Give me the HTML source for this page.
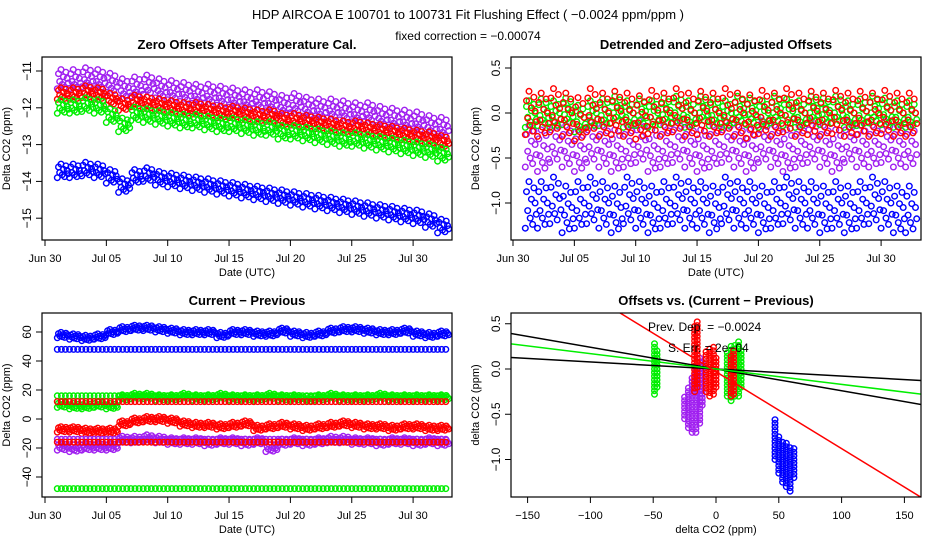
<!DOCTYPE html>
<html><head><meta charset="utf-8">
<style>
html,body{margin:0;padding:0;background:#fff;}
svg{display:block;font-family:"Liberation Sans",sans-serif;}
</style></head>
<body>
<svg id="c" width="936" height="540" viewBox="0 0 936 540">
<text x="468" y="19" text-anchor="middle" font-size="13">HDP    AIRCOA E    100701 to 100731    Fit Flushing Effect ( −0.0024 ppm/ppm )</text>
<text x="468" y="40" text-anchor="middle" font-size="12">fixed correction = −0.00074</text>
</svg>
<script>
// ---- data (days since Jun 30) ----
const days = [1,2,3,4,5,6,7,8,9,10,11,12,13,14,15,16,17,18,19,20,21,22,23,24,25,26,27,28,29,30,31,32];
const dateTicks = [0,5,10,15,20,25,30];
const dateTickLabels = ["Jun 30","Jul 05","Jul 10","Jul 15","Jul 20","Jul 25","Jul 30"];
// panel 1: zero offsets
const p1Purple = [-11.2,-11.2,-11.15,-11.2,-11.3,-11.45,-11.4,-11.35,-11.45,-11.5,-11.55,-11.6,-11.6,-11.65,-11.7,-11.75,-11.75,-11.8,-11.9,-11.85,-11.95,-12.0,-12.0,-12.05,-12.1,-12.1,-12.2,-12.25,-12.3,-12.35,-12.45,-12.5];
const p1Red = [-11.6,-11.6,-11.55,-11.6,-11.75,-11.9,-11.8,-11.85,-11.9,-11.95,-12.0,-12.0,-12.05,-12.1,-12.1,-12.15,-12.2,-12.2,-12.3,-12.3,-12.35,-12.4,-12.45,-12.5,-12.5,-12.55,-12.6,-12.65,-12.7,-12.75,-12.8,-12.9];
const p1Green = [-11.95,-11.95,-11.9,-11.95,-12.2,-12.45,-12.15,-12.2,-12.25,-12.3,-12.35,-12.35,-12.4,-12.45,-12.45,-12.5,-12.55,-12.55,-12.65,-12.65,-12.7,-12.75,-12.8,-12.85,-12.85,-12.9,-12.95,-13.0,-13.05,-13.1,-13.15,-13.25];
const p1Blue = [-13.7,-13.7,-13.65,-13.7,-13.85,-14.1,-13.85,-13.8,-13.9,-13.95,-14.0,-14.05,-14.1,-14.15,-14.2,-14.25,-14.3,-14.35,-14.4,-14.45,-14.5,-14.55,-14.6,-14.65,-14.7,-14.75,-14.8,-14.85,-14.9,-14.95,-15.05,-15.2];
const p1Spread = [0.28,0.17,0.2,0.2];
const p1Ticks = [-11,-12,-13,-14,-15];
// panel 2: detrended
const p2Purple = [-0.35,-0.4,-0.3,-0.35,-0.4,-0.3,-0.35,-0.4,-0.35,-0.3,-0.4,-0.35,-0.3,-0.35,-0.4,-0.35,-0.3,-0.35,-0.4,-0.3,-0.35,-0.4,-0.35,-0.3,-0.35,-0.4,-0.3,-0.35,-0.35,-0.3,-0.35,-0.35];
const p2Red = [0.02,0.0,0.05,0.0,-0.05,0.05,0.0,0.02,0.0,-0.03,0.03,0.0,0.05,0.0,0.02,0.0,0.05,0.0,-0.02,0.03,0.0,0.05,0.0,0.02,0.0,0.03,0.0,0.02,0.0,0.03,0.0,0.0];
const p2Green = [0.0,0.02,0.0,0.03,-0.05,0.0,0.02,0.05,0.0,0.02,0.0,0.03,0.05,0.0,0.05,0.02,0.0,0.05,0.03,0.0,0.05,0.02,0.0,0.05,0.03,0.05,0.0,0.02,0.05,0.03,0.0,0.0];
const p2Blue = [-1.0,-1.0,-0.95,-1.05,-1.0,-0.95,-1.0,-1.05,-0.95,-1.0,-1.05,-1.0,-0.95,-1.0,-1.0,-1.05,-0.95,-1.0,-1.0,-1.05,-1.0,-0.95,-1.0,-1.0,-1.05,-1.0,-1.05,-1.0,-0.95,-1.0,-1.05,-1.05];
const p2Spread = [0.25,0.26,0.16,0.28];
const p2Ticks = [0.5,0.0,-0.5,-1.0];
const p2TickLabels = ["0.5","0.0","−0.5","−1.0"];
// panel 3: current - previous
const p3BlueBand = [58,57,56,57,60,62,63,63,62,61,60,60,60,58,60,60,59,59,61,59,58,59,61,62,62,61,60,60,61,59,58,59];
const p3GreenBand = [10,9,9,10,9,15,16,16,15,15,16,15,15,16,15,15,15,16,15,15,14,15,16,15,15,15,16,15,15,15,15,15];
const p3RedBand = [-7,-7,-8,-8,-8,-3,-1,0,0,-1,-3,-4,-4,-5,-4,-3,-6,-5,-4,-5,-6,-5,-4,-3,-4,-5,-5,-6,-5,-5,-6,-6];
const p3PurpleBand = [-19,-20,-19,-19,-19,-14,-14,-13,-14,-15,-15,-15,-16,-15,-15,-16,-15,-20,-16,-15,-16,-15,-14,-14,-15,-15,-16,-15,-15,-16,-15,-16];
const p3Levels = [48,16,12,-14,-16,-48];
const p3LevelColors = ["#0000ff","#00ee00","#ff0000","#a020f0","#ff0000","#00ee00"];
const p3Ticks = [60,40,20,0,-20,-40];
const p3TickLabels = ["60","40","20","0","−20","−40"];
// panel 4: offsets vs current-previous (columns x, ylo, yhi)
const p4GreenX = [-49,-47,9,12,15,18,20];
const p4GreenLo = [-0.28,-0.2,-0.3,-0.35,-0.3,-0.3,-0.2];
const p4GreenHi = [0.28,0.22,0.2,0.25,0.28,0.3,0.2];
const p4PurpleX = [-25,-22,-19,-16,-13,-11];
const p4PurpleLo = [-0.55,-0.65,-0.7,-0.7,-0.6,-0.4];
const p4PurpleHi = [-0.3,-0.2,-0.1,0.05,0.15,0.1];
const p4RedX = [-17,-15,-8,-5,-2,0,12,14];
const p4RedLo = [-0.25,-0.2,-0.25,-0.3,-0.28,-0.2,-0.3,-0.28];
const p4RedHi = [0.5,0.55,0.2,0.25,0.25,0.15,0.15,0.2];
const p4BlueX = [47,50,53,56,59,62];
const p4BlueLo = [-1.0,-1.15,-1.25,-1.3,-1.35,-1.2];
const p4BlueHi = [-0.55,-0.75,-0.8,-0.8,-0.85,-0.85];
const fitSlopes = [-0.00078,-0.0024,-0.0017,-0.0085];
const fitIntercepts = [0.0,0.0,0.0,-0.03];
const fitColors = ["#000000","#000000","#00ee00","#ff0000"];
const p4XTicks = [-150,-100,-50,0,50,100,150];
const p4XTickLabels = ["−150","−100","−50","0","50","100","150"];
const p4YTicks = [0.5,0.0,-0.5,-1.0];
const p4YTickLabels = ["0.5","0.0","−0.5","−1.0"];

// ---- drawing ----
const NS="http://www.w3.org/2000/svg";
const svg=document.getElementById('c');
function mk(tag,attrs,parent){const e=document.createElementNS(NS,tag);for(const k in attrs)e.setAttribute(k,attrs[k]);(parent||svg).appendChild(e);return e;}
const jit=[-1,0.45,-0.3,0.85,-0.6,0.15,-0.85,0.6,0.0,-0.45];
const COL={purple:"#a020f0",red:"#ff0000",green:"#00ee00",blue:"#0000ff"};

function panel(name,x0,y0,x1,y1,title){
  const g=mk('g',{});
  
  
  const t=mk('text',{x:(x0+x1)/2,y:y0-8,'text-anchor':'middle','font-size':13,'font-weight':'bold'},g);
  t.textContent=title;
  
  
  const clip=mk('clipPath',{id:'clip-'+name},g);
  mk('rect',{x:x0,y:y0,width:x1-x0,height:y1-y0},clip);
  const plot=mk('g',{'clip-path':'url(#clip-'+name+')'},g);
  
  
  return {g,plot,x0,y0,x1,y1};
}
function frame(p){
  const r=mk('rect',{x:p.x0,y:p.y0,width:p.x1-p.x0,height:p.y1-p.y0,fill:'none',stroke:'#000','stroke-width':1.2},p.g);
  
  
}
function yAxis(p,ticks,labels,sy,title){
  const ax=mk('g',{},p.g);
  
  
  ticks.forEach((v,i)=>{const y=sy(v);
    mk('line',{x1:p.x0-6,x2:p.x0,y1:y,y2:y,stroke:'#000'},ax);
    const t=mk('text',{x:p.x0-11,y:y,'font-size':12,'text-anchor':'middle',transform:`rotate(-90 ${p.x0-11} ${y})`},ax);
    t.textContent=labels[i];
    
    });
  const cy=(p.y0+p.y1)/2, cx=p.x0-32;
  const tt=mk('text',{x:cx,y:cy,'font-size':11,'text-anchor':'middle',transform:`rotate(-90 ${cx} ${cy})`},ax);
  tt.textContent=title;
  
  
}
function xAxis(p,ticks,labels,sx,title){
  const ax=mk('g',{},p.g);
  
  
  ticks.forEach((v,i)=>{const x=sx(v);
    mk('line',{x1:x,x2:x,y1:p.y1,y2:p.y1+6,stroke:'#000'},ax);
    const t=mk('text',{x:x,y:p.y1+22,'font-size':11,'text-anchor':'middle'},ax);
    t.textContent=labels[i];
    
    });
  const tt=mk('text',{x:(p.x0+p.x1)/2,y:p.y1+36,'font-size':11,'text-anchor':'middle'},ax);
  tt.textContent=title;
  
  
}
function dot(parent,x,y,c){return mk('circle',{cx:x.toFixed(1),cy:y.toFixed(1),r:2.8,fill:'none',stroke:c,'stroke-width':1.4},parent);}
function series(p,name,vals,spread,c,sx,sy){
  const g=mk('g',{},p.plot);
  
  
  vals.forEach((v,i)=>{jit.forEach((j,k)=>{dot(g,sx(days[i]+k/jit.length),sy(v+spread*j),c);});});
}
function levelSeries(p,name,level,c,sx,sy){
  const g=mk('g',{},p.plot);
  
  
  days.forEach(d=>{for(let k=0;k<3;k++)dot(g,sx(d+k/3),sy(level),c);});
}
function cols(p,name,xs,lo,hi,c,sx,sy){
  const g=mk('g',{},p.plot);
  
  
  xs.forEach((x,i)=>{for(let y=lo[i];y<=hi[i]+1e-9;y+=0.04){dot(g,sx(x),sy(y),c);}});
}

// Panel 1
{const p=panel('zero-offsets-panel',42,57,452,240,'Zero Offsets After Temperature Cal.');
 const sx=d=>45+d*12.27, sy=v=>71+(-11-v)*36.8;
 series(p,'purple-series',p1Purple,p1Spread[0],COL.purple,sx,sy);
 series(p,'red-series',p1Red,p1Spread[1],COL.red,sx,sy);
 series(p,'green-series',p1Green,p1Spread[2],COL.green,sx,sy);
 series(p,'blue-series',p1Blue,p1Spread[3],COL.blue,sx,sy);
 frame(p);
 yAxis(p,p1Ticks,p1Ticks.map(v=>"−"+Math.abs(v)),sy,'Delta CO2 (ppm)');
 xAxis(p,dateTicks,dateTickLabels,sx,'Date (UTC)');}
// Panel 2
{const p=panel('detrended-panel',511,57,921,240,'Detrended and Zero−adjusted Offsets');
 const sx=d=>513+d*12.27, sy=v=>113-v*90;
 series(p,'purple-series',p2Purple,p2Spread[0],COL.purple,sx,sy);
 series(p,'blue-series',p2Blue,p2Spread[3],COL.blue,sx,sy);
 series(p,'green-series',p2Green,p2Spread[2],COL.green,sx,sy);
 series(p,'red-series',p2Red,p2Spread[1],COL.red,sx,sy);
 frame(p);
 yAxis(p,p2Ticks,p2TickLabels,sy,'Delta CO2 (ppm)');
 xAxis(p,dateTicks,dateTickLabels,sx,'Date (UTC)');}
// Panel 3
{const p=panel('current-previous-panel',42,313,452,497,'Current − Previous');
 const sx=d=>45+d*12.27, sy=v=>419-v*1.45;
 series(p,'blue-band-series',p3BlueBand,2,COL.blue,sx,sy);
 series(p,'green-band-series',p3GreenBand,2,COL.green,sx,sy);
 series(p,'red-band-series',p3RedBand,2,COL.red,sx,sy);
 series(p,'purple-band-series',p3PurpleBand,2.5,COL.purple,sx,sy);
 p3Levels.forEach((L,i)=>levelSeries(p,'level-series-'+i,L,p3LevelColors[i],sx,sy));
 frame(p);
 yAxis(p,p3Ticks,p3TickLabels,sy,'Delta CO2 (ppm)');
 xAxis(p,dateTicks,dateTickLabels,sx,'Date (UTC)');}
// Panel 4
{const p=panel('offsets-vs-diff-panel',511,313,921,497,'Offsets vs. (Current − Previous)');
 const sx=v=>716+v*1.256, sy=v=>369-v*90.5;
 cols(p,'green-points',p4GreenX,p4GreenLo,p4GreenHi,COL.green,sx,sy);
 cols(p,'purple-points',p4PurpleX,p4PurpleLo,p4PurpleHi,COL.purple,sx,sy);
 cols(p,'red-points',p4RedX,p4RedLo,p4RedHi,COL.red,sx,sy);
 cols(p,'blue-points',p4BlueX,p4BlueLo,p4BlueHi,COL.blue,sx,sy);
 fitSlopes.forEach((s,i)=>{const l=mk('line',{x1:sx(-170),y1:sy(fitIntercepts[i]+s*-170),x2:sx(170),y2:sy(fitIntercepts[i]+s*170),stroke:fitColors[i],'stroke-width':1.5},p.plot);
   
   });
 const t1=mk('text',{x:648,y:331,'font-size':12},p.g);t1.textContent='Prev. Dep. =  −0.0024';
 
 
 const t2=mk('text',{x:668,y:352,'font-size':12},p.g);t2.textContent='S. Err. =  2e−04';
 
 
 frame(p);
 yAxis(p,p4YTicks,p4YTickLabels,sy,'delta CO2 (ppm)');
 xAxis(p,p4XTicks,p4XTickLabels,sx,'delta CO2 (ppm)');}
</script>
</body></html>
